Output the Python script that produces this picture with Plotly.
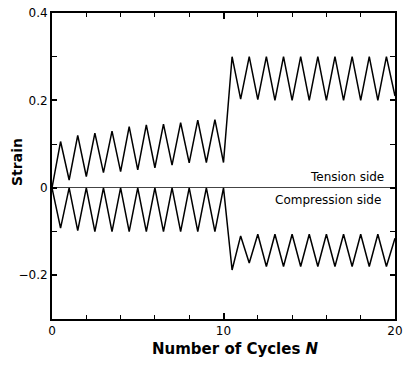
import plotly.graph_objects as go

# Data
cycles = [0, 0.5, 1, 1.5, 2, 2.5, 3, 3.5, 4, 4.5, 5, 5.5, 6, 6.5, 7, 7.5, 8, 8.5, 9, 9.5, 10,
          10.5, 11, 11.5, 12, 12.5, 13, 13.5, 14, 14.5, 15, 15.5, 16, 16.5, 17, 17.5, 18, 18.5, 19, 19.5, 20]
tension = [0.0, 0.106, 0.018, 0.120, 0.026, 0.125, 0.035, 0.130, 0.037, 0.140, 0.041,
           0.144, 0.046, 0.146, 0.052, 0.149, 0.057, 0.155, 0.058, 0.156, 0.058,
           0.300, 0.203, 0.300, 0.202, 0.300, 0.200, 0.300, 0.200, 0.300, 0.200,
           0.300, 0.200, 0.300, 0.200, 0.300, 0.200, 0.300, 0.200, 0.300, 0.210]
compression = [0.0, -0.092, 0.0, -0.098, 0.0, -0.100, 0.0, -0.100, 0.0, -0.100, 0.0,
               -0.100, 0.0, -0.100, 0.0, -0.100, 0.0, -0.100, 0.0, -0.100, 0.0,
               -0.188, -0.110, -0.172, -0.106, -0.180, -0.106, -0.180, -0.106, -0.180, -0.106,
               -0.180, -0.106, -0.180, -0.106, -0.180, -0.106, -0.180, -0.106, -0.180, -0.115]

x_title = "<b>Number of Cycles <i>N</i></b>"
y_title = "<b>Strain</b>"
label_tension = "Tension side"
label_compression = "Compression side"

FONT = "DejaVu Sans"

fig = go.Figure()
fig.add_trace(go.Scatter(x=cycles, y=tension, mode="lines",
                         line=dict(color="black", width=1.5), showlegend=False))
fig.add_trace(go.Scatter(x=cycles, y=compression, mode="lines",
                         line=dict(color="black", width=1.5), showlegend=False))

W, H = 407, 365
L, R, T, B = 52, 12, 13, 46
pw, ph = W - L - R, H - T - B

def px(xp):
    return (xp - L) / pw

def py(yp):
    return (H - B - yp) / ph

fig.add_annotation(x=19.45, y=0.004, xref="x", yref="y", text=label_tension,
                   showarrow=False, xanchor="right", yanchor="bottom",
                   font=dict(family=FONT, size=12, color="black"))
fig.add_annotation(x=19.3, y=-0.027, xref="x", yref="y", text=label_compression,
                   showarrow=False, xanchor="right", yanchor="middle",
                   font=dict(family=FONT, size=12, color="black"))
fig.add_annotation(x=px(235), y=py(349), xref="paper", yref="paper", text=x_title,
                   showarrow=False, xanchor="center", yanchor="middle",
                   font=dict(family=FONT, size=15, color="black"))
fig.add_annotation(x=px(17), y=py(162), xref="paper", yref="paper", text=y_title,
                   showarrow=False, xanchor="center", yanchor="middle", textangle=-90,
                   font=dict(family=FONT, size=14, color="black"))

axis_common = dict(showline=True, linecolor="black", linewidth=2, mirror="ticks",
                   ticks="inside", tickcolor="black", tickwidth=1.5, showgrid=False,
                   automargin=False,
                   tickfont=dict(family=FONT, size=12, color="black"))

fig.update_xaxes(range=[0, 20], tickmode="linear", tick0=0, dtick=10, ticklen=6,
                 zeroline=False,
                 minor=dict(dtick=2, tick0=0, ticks="inside", ticklen=4, tickwidth=1.2,
                            tickcolor="black", showgrid=False),
                 **axis_common)
fig.update_yaxes(range=[-0.3, 0.4], tickmode="linear", tick0=0, dtick=0.2, ticklen=5,
                 zeroline=True, zerolinecolor="#444", zerolinewidth=1,
                 minor=dict(dtick=0.1, tick0=0, ticks="inside", ticklen=5, tickwidth=1.2,
                            tickcolor="black", showgrid=False),
                 **axis_common)

fig.update_layout(width=W, height=H, margin=dict(l=L, r=R, t=T, b=B, autoexpand=False),
                  plot_bgcolor="white", paper_bgcolor="white",
                  font=dict(family=FONT, color="black"))

fig.write_html("out.html")
